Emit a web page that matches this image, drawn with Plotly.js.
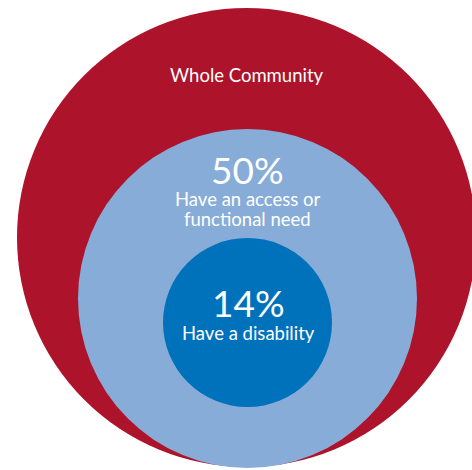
<!DOCTYPE html>
<html>
<head>
<meta charset="utf-8">
<script src="https://cdn.plot.ly/plotly-3.0.1.min.js"></script>
<style>html,body{margin:0;padding:0;background:#fff;}#chart{width:472px;height:470px;}</style>
</head>
<body>
<div id="chart"></div>
<script>
// Data
var groups = ["Whole Community", "Have an access or functional need", "Have a disability"];
var shareLabels = ["", "50%", "14%"];
var descLines = [["Whole Community"], ["Have an access or", "functional need"], ["Have a disability"]];

// Geometry (layout, in axis units = pixels)
var circles = [
  {cx: 246.5, cy: 237.5, r: 229.5, color: "#AD132A"},
  {cx: 247.5, cy: 298.5, r: 169.5, color: "#87ACD8"},
  {cx: 247.5, cy: 322.5, r: 84.5, color: "#0071BB"}
];

var shapes = circles.map(function (c) {
  return {type: "circle", xref: "x", yref: "y",
    x0: c.cx - c.r, x1: c.cx + c.r, y0: c.cy - c.r, y1: c.cy + c.r,
    fillcolor: c.color, line: {width: 0}, layer: "below"};
});

var font = "Lato, 'Open Sans', sans-serif";
var small = 18.5, big = 37;
var annotations = [
  {x: 247, y: 75, text: descLines[0][0], font: {size: small, color: "#fff", family: font}},
  {x: 247, y: 169, text: shareLabels[1], font: {size: big, color: "#fff", family: font}},
  {x: 247, y: 199, text: descLines[1][0], font: {size: small, color: "#fff", family: font}},
  {x: 247, y: 218.5, text: descLines[1][1], font: {size: small, color: "#fff", family: font}},
  {x: 248, y: 302, text: shareLabels[2], font: {size: big, color: "#fff", family: font}},
  {x: 248, y: 333, text: descLines[2][0], font: {size: small, color: "#fff", family: font}}
].map(function (a) {
  a.xref = "x"; a.yref = "y"; a.showarrow = false; a.xanchor = "center"; a.yanchor = "middle";
  a.borderpad = 0;
  return a;
});

var trace = {x: [0, 472], y: [0, 470], mode: "markers", marker: {opacity: 0}, hoverinfo: "skip", showlegend: false};

Plotly.newPlot("chart", [trace], {
  width: 472, height: 470,
  margin: {l: 0, r: 0, t: 0, b: 0},
  paper_bgcolor: "#fff", plot_bgcolor: "#fff",
  xaxis: {range: [0, 472], visible: false, fixedrange: true},
  yaxis: {range: [470, 0], visible: false, fixedrange: true},
  shapes: shapes,
  annotations: annotations,
  showlegend: false
}, {displayModeBar: false, staticPlot: true});
</script>
</body>
</html>
